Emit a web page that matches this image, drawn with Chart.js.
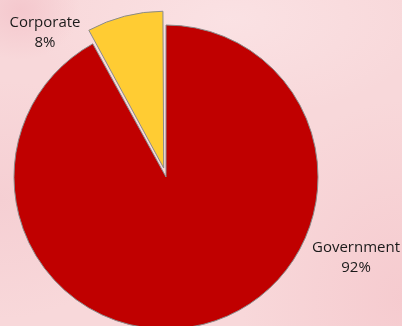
<!DOCTYPE html>
<html>
<head>
<meta charset="utf-8">
<script src="https://cdn.jsdelivr.net/npm/chart.js@4"></script>
<style>
  html, body { margin: 0; padding: 0; }
  body {
    width: 402px; height: 326px; overflow: hidden;
    background:
      radial-gradient(ellipse 60px 50px at 20px 10px, rgba(240,180,190,0.45), rgba(240,180,190,0) 100%),
      radial-gradient(ellipse 140px 120px at 0px 200px, rgba(240,190,198,0.35), rgba(240,190,198,0) 100%),
      radial-gradient(ellipse 160px 200px at 402px 300px, rgba(243,190,196,0.5), rgba(243,190,196,0) 100%),
      radial-gradient(ellipse 200px 100px at 230px 20px, rgba(252,232,234,0.6), rgba(252,232,234,0) 100%),
      #F8D8DA;
  }
  #wrap { position: relative; width: 402px; height: 326px; }
</style>
</head>
<body>
<div id="wrap"><canvas id="c" width="402" height="326"></canvas></div>
<script>
const categories = ["Government", "Corporate"];
const shares = [92, 8];
const percentLabels = ["92%", "8%"];
const sliceColors = ["#C00000", "#FFCC33"];
const sliceOffsets = [0, 37];

const labelPlugin = {
  id: "pieLabels",
  afterDatasetsDraw(chart) {
    const ctx = chart.ctx;
    const meta = chart.getDatasetMeta(0);
    ctx.save();
    ctx.font = "15px 'Open Sans', 'Noto Sans', sans-serif";
    ctx.fillStyle = "#1a1a1a";
    ctx.textAlign = "center";
    ctx.textBaseline = "middle";
    const anchors = [
      { dx: 190, dy: 81 },    // Government
      { dx: -121, dy: -144 }  // Corporate
    ];
    meta.data.forEach((arc, i) => {
      const cx = arc.x + anchors[i].dx;
      const cy = arc.y + anchors[i].dy;
      ctx.fillText(categories[i], cx, cy - 10);
      ctx.fillText(percentLabels[i], cx, cy + 10);
    });
    ctx.restore();
  }
};

new Chart(document.getElementById("c"), {
  type: "pie",
  data: {
    labels: categories,
    datasets: [{
      data: shares,
      backgroundColor: sliceColors,
      borderColor: "#8a8a8a",
      borderWidth: 1,
      offset: sliceOffsets,
      clip: false
    }]
  },
  options: {
    responsive: false,
    animation: false,
    rotation: 0,
    radius: 152,
    layout: { padding: { left: 0, right: 70, top: 28, bottom: 0 } },
    plugins: {
      legend: { display: false },
      tooltip: { enabled: false },
      title: { display: false }
    }
  },
  plugins: [labelPlugin]
});
</script>
</body>
</html>
